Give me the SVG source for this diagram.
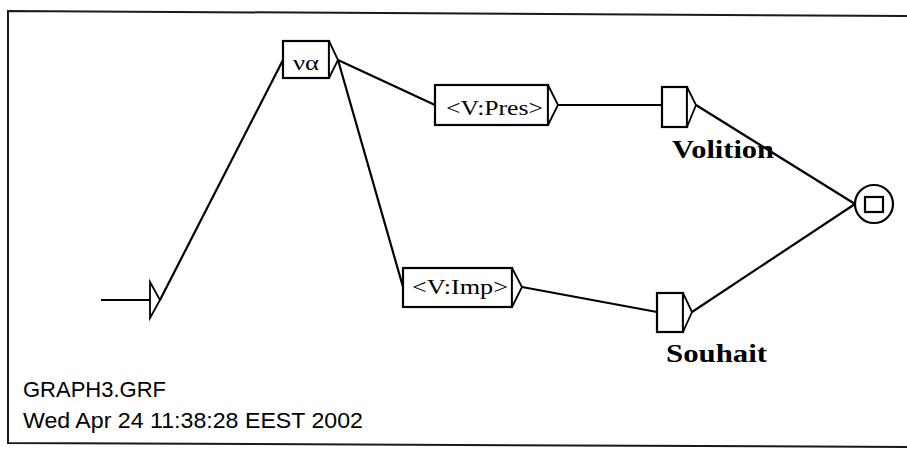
<svg xmlns="http://www.w3.org/2000/svg" width="907" height="449" viewBox="0 0 907 449">
<style>
.frame{fill:none;stroke:#1a1a1a;stroke-width:2}
.box{fill:#fff;stroke:#000;stroke-width:2.2}
.tri{fill:#fff;stroke:#000;stroke-width:1.8;stroke-linejoin:miter}
.edge{fill:none;stroke:#000;stroke-width:2.2}
.lbl{font-family:"Liberation Serif","Times New Roman",serif;font-size:22px;fill:#000}
.out{font-family:"Liberation Serif","Times New Roman",serif;font-size:25px;font-weight:bold;fill:#000}
.info{font-family:"Liberation Sans",Arial,sans-serif;font-size:22px;fill:#000}
</style>
<rect width="907" height="449" fill="#fff"/>
<g id="frame">
<polyline class="frame" points="907,16 8,11 8,443 907,447"/>
</g>
<g id="connectors">
<line class="edge" x1="101" y1="300" x2="150" y2="300"/>
<line class="edge" x1="160" y1="300" x2="283" y2="60"/>
<line class="edge" x1="338" y1="60" x2="435" y2="105"/>
<line class="edge" x1="338" y1="60" x2="403" y2="287"/>
<line class="edge" x1="558" y1="105" x2="662" y2="105"/>
<line class="edge" x1="522" y1="287" x2="657" y2="312"/>
<line class="edge" x1="696" y1="105" x2="855" y2="204"/>
<line class="edge" x1="692" y1="312" x2="855" y2="204"/>
</g>
<g id="initial">
<polygon class="tri" points="150,282 160,300 150,318"/>
</g>
<g id="node-va">
<rect class="box" x="283" y="41" width="46" height="37"/>
<polygon class="tri" points="329,41 338,60 329,78"/>
<text class="lbl" x="293" y="70" textLength="26" lengthAdjust="spacingAndGlyphs">να</text>
</g>
<g id="node-vpres">
<rect class="box" x="435" y="85" width="113" height="40"/>
<polygon class="tri" points="548,85 558,105 548,125"/>
<text class="lbl" x="446" y="115" textLength="97" lengthAdjust="spacingAndGlyphs">&lt;V:Pres&gt;</text>
</g>
<g id="node-vimp">
<rect class="box" x="403" y="268" width="109" height="39"/>
<polygon class="tri" points="512,268 522,287 512,307"/>
<text class="lbl" x="412" y="294" textLength="96" lengthAdjust="spacingAndGlyphs">&lt;V:Imp&gt;</text>
</g>
<g id="node-volition">
<rect class="box" x="662" y="87" width="25" height="40"/>
<polygon class="tri" points="687,87 696,105 687,127"/>
<text class="out" x="672" y="158" textLength="102" lengthAdjust="spacingAndGlyphs">Volition</text>
</g>
<g id="node-souhait">
<rect class="box" x="657" y="293" width="26" height="39"/>
<polygon class="tri" points="683,293 692,312 683,332"/>
<text class="out" x="666" y="362" textLength="101" lengthAdjust="spacingAndGlyphs">Souhait</text>
</g>
<g id="final">
<circle cx="874" cy="204" r="19" fill="#fff" stroke="#000" stroke-width="2.2"/>
<rect x="865" y="197" width="18" height="15" fill="none" stroke="#000" stroke-width="2.2"/>
</g>
<g id="info">
<text class="info" x="23" y="397">GRAPH3.GRF</text>
<text class="info" x="23" y="428" textLength="340" lengthAdjust="spacingAndGlyphs">Wed Apr 24 11:38:28 EEST 2002</text>
</g>
</svg>
